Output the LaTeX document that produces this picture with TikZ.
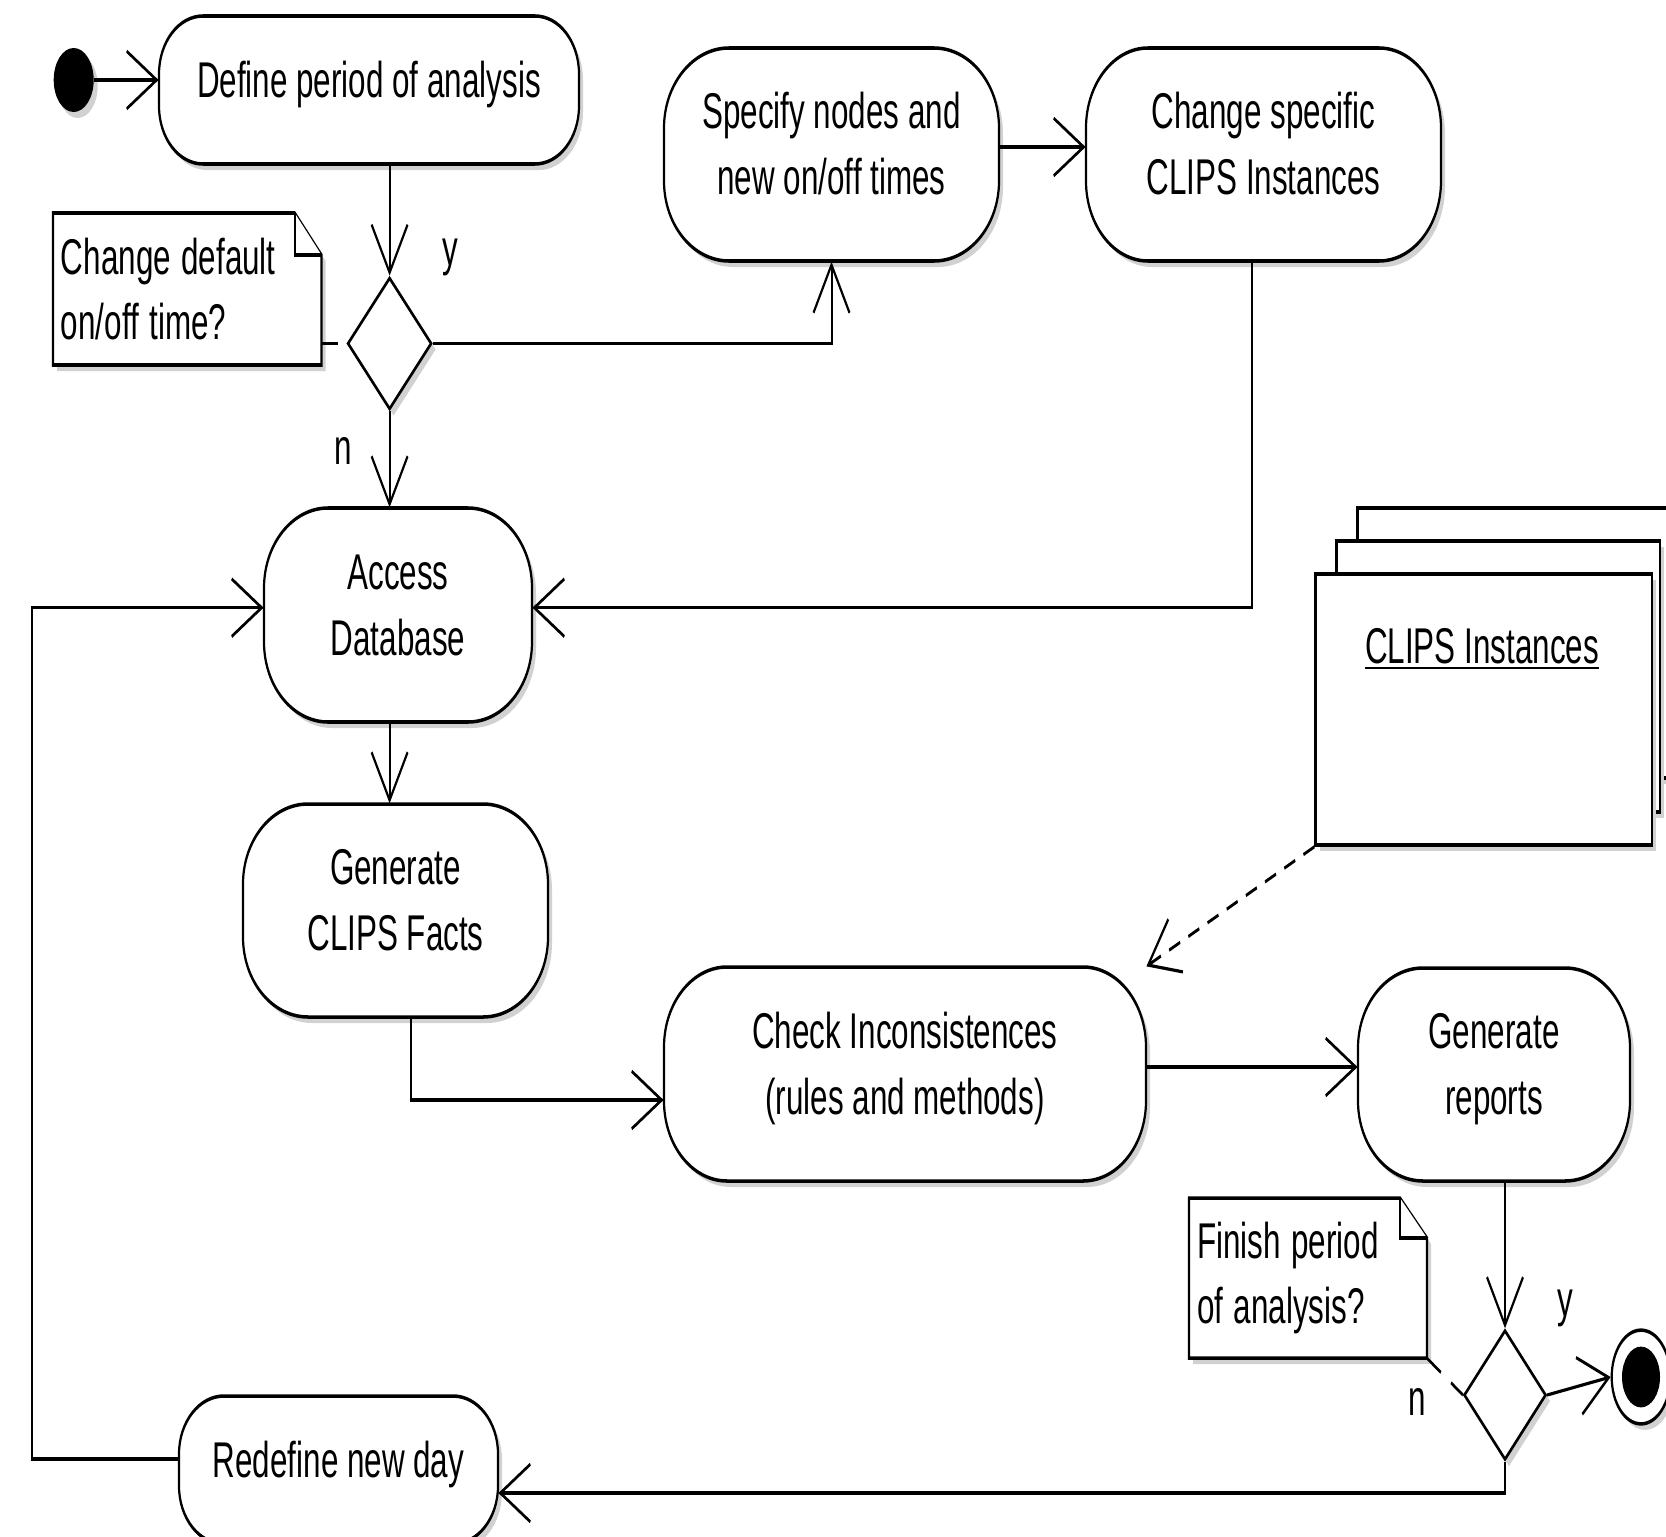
\documentclass[tikz,border=0pt]{standalone}
\usepackage{fontspec}
\setmainfont{Liberation Sans}
\usetikzlibrary{arrows.meta,shapes.geometric,calc}

% rounded activity outline: L T R B rx ry (px)
\newcommand\actpath[6]{(#1+#5,#2) -- (#3-#5,#2)
  arc[start angle=90,end angle=0,x radius={#5*0.5pt},y radius={#6*0.3125pt}] -- (#3,#4-#6)
  arc[start angle=0,end angle=-90,x radius={#5*0.5pt},y radius={#6*0.3125pt}] -- (#1+#5,#4)
  arc[start angle=270,end angle=180,x radius={#5*0.5pt},y radius={#6*0.3125pt}] -- (#1,#2+#6)
  arc[start angle=180,end angle=90,x radius={#5*0.5pt},y radius={#6*0.3125pt}] -- cycle}

% [node options] name L T R B rx ry text
\newcommand\actbox[9][]{%
  \fill[shadowc,shift={(4,6)}] \actpath{#3}{#4}{#5}{#6}{#7}{#8};
  \draw[actline] \actpath{#3}{#4}{#5}{#6}{#7}{#8};
  \node[acttext,#1,minimum width={(#5-#3)*0.5pt},minimum height={(#6-#4)*0.3125pt}]
    (#2) at ({(#3+#5)/2},{(#4+#6)/2}) {#9};
}

% note: name L T R B foldx foldy text
\newcommand\notebox[8]{%
  \fill[shadowc,shift={(4,6)}] (#2,#3) -- (#6,#3) -- (#4,#7) -- (#4,#5) -- (#2,#5) -- cycle;
  \draw[actline] (#2,#3) -- (#6,#3) -- (#4,#7) -- (#4,#5) -- (#2,#5) -- cycle;
  \draw[actline] (#6,#3) -- (#6,#7) -- (#4,#7);
  \node[notetext,minimum width={(#4-#2)*0.5pt},minimum height={(#5-#3)*0.3125pt},
    text width={(#4-#2-16)*0.5pt}] (#1) at ({(#2+#4)/2},{(#3+#5)/2}) {#8};
}

% diamond shadow: cx cy halfw halfh
\newcommand\diashadow[4]{%
  \fill[shadowc] (#1-#3+4,#2+6) -- (#1+4,#2-#4+6) -- (#1+#3+4,#2+6) -- (#1+4,#2+#4+6) -- cycle;
}

\tikzset{
  shadowc/.style={fill=black!18},
  actline/.style={draw=black,fill=white,line width=1.1pt},
  acttext/.style={inner sep=0pt,align=center,text height=11.5pt,text depth=7.1pt},
  twolines/.style={text height=32.1pt},
  notetext/.style={inner xsep=4pt,inner ysep=0pt,align=left},
  decision/.style={diamond,draw=black,fill=white,line width=1.1pt,inner sep=0pt,aspect=1},
  objnode/.style={rectangle,draw=black,fill=white,line width=1.1pt,inner sep=0pt},
  conn/.style={draw=black,line width=1pt},
  arr/.style={-{Straight Barb[length=15pt,width=18pt]}},
  notelink/.style={dash pattern=on 8pt off 6pt},
  flowdash/.style={dash pattern=on 6pt off 4.5pt},
  lbl/.style={inner sep=0pt,anchor=base}
}

\begin{document}
\begin{tikzpicture}
\useasboundingbox[fill=white] (0,0) rectangle (833pt,-768.5pt);
\begin{scope}[transform canvas={yscale=1.6},x=0.5pt,y=-0.3125pt,
  every node/.append style={font=\fontsize{15.7}{20.6}\selectfont}]

% ---- initial node
\fill[shadowc] (77.7,86) circle[radius=10pt];
\node[circle,fill=black,minimum size=20pt,inner sep=0pt] (init) at (73.7,80) {};

% ---- activities
\actbox{define}{159}{16}{579}{164}{44}{58}{Define period of analysis}
\actbox[twolines]{spec}{664}{48}{999}{261}{65}{80}{Specify nodes and\\new on/off times}
\actbox[twolines]{chg}{1086}{48}{1441}{261}{62}{80}{Change specific\\CLIPS Instances}
\actbox[twolines]{access}{264}{508}{532}{722}{64}{80}{Access\\Database}
\actbox[twolines]{facts}{243}{804}{548}{1017}{65}{80}{Generate\\CLIPS Facts}
\actbox[twolines]{check}{664}{967}{1146}{1181}{63}{80}{Check Inconsistences\\(rules and methods)}
\actbox[twolines]{reports}{1358}{968}{1630}{1181}{65}{80}{Generate\\reports}
\actbox{redef}{179}{1396}{498}{1544}{45}{58}{Redefine new day}

% ---- notes
\notebox{note1}{53}{213}{321.5}{365}{294.7}{255}{Change default\\on/off time?}
\notebox{note2}{1189}{1198}{1427}{1358}{1400}{1238}{Finish period\\of analysis?}

% ---- decisions
\diashadow{389.6}{343.5}{42}{66}
\node[decision,minimum width=42pt,minimum height=41.25pt] (dec1) at (389.6,343.5) {};
\diashadow{1505}{1395}{41}{65}
\node[decision,minimum width=41pt,minimum height=40.6pt] (dec2) at (1505,1395) {};

% ---- final node
\fill[shadowc] (1645,1383) circle[radius=14.65pt];
\node[circle,draw=black,fill=white,line width=1.1pt,minimum size=29.3pt,inner sep=0pt] (final) at (1641,1377) {};
\node[circle,fill=black,minimum size=19pt,inner sep=0pt] (finaldot) at (final.center) {};

% ---- CLIPS Instances object stack
\fill[shadowc,shift={(4,6)}] (1357.5,508) rectangle (1690,778);
\draw[actline] (1357.5,508) rectangle (1690,778);
\fill[shadowc,shift={(4,6)}] (1336.5,541) rectangle (1660,812);
\draw[actline] (1336.5,541) rectangle (1660,812);
\fill[shadowc,shift={(4,6)}] (1315.5,574) rectangle (1652,845);
\node[objnode,minimum width={336.5*0.5pt},minimum height={271*0.3125pt}] (clips) at (1483.75,709.5) {};
\node[lbl] (clipslabel) at (1482,663) {\underline{CLIPS Instances}};

% ---- guard labels
\node[lbl] (y1) at (450,265) {y};
\node[lbl] (n1) at (343,464) {n};
\node[lbl] (y2) at (1565,1316) {y};
\node[lbl] (n2) at (1417,1415) {n};

% ---- helper coordinates
\coordinate (ya) at (0,147);
\coordinate (c6) at (1251.6,607.7);
\coordinate (loopx) at (32,1459);
\coordinate (c9) at (411,1100);
\coordinate (yb) at (0,1067);
\coordinate (c13) at (0,1493);

% ---- connectors
\draw[conn,arr] (init.east) -- (init.east -| define.west);
\draw[conn,arr] (dec1.north |- define.south) -- (dec1.north);
\draw[conn,arr] (dec1.east) -| (spec.south);
\draw[conn,arr] (dec1.south) -- (dec1.south |- access.north);
\draw[conn,arr] (spec.east |- ya) -- (chg.west |- ya);
\draw[conn,arr] (chg.south -| c6) -- (c6) -- (c6 -| access.east);
\draw[conn,arr] (redef.west |- loopx) -- (loopx) -- (loopx |- c6) -- (c6 -| access.west);
\draw[conn,arr] (dec1.south |- access.south) -- (dec1.south |- facts.north);
\draw[conn,arr] (facts.south -| c9) -- (c9) -- (c9 -| check.west);
\draw[conn,arr] (check.east |- yb) -- (reports.west |- yb);
\draw[conn,arr] (dec2.north |- reports.south) -- (dec2.north);
\draw[conn,arr] (dec2.east) -- (final.west);
\draw[conn,arr] (dec2.south) -- (dec2.south |- c13) -- (redef.east |- c13);
\draw[conn,flowdash,arr] (clips.south west) -- (check.north east);
\draw[conn,notelink] (note1.east |- dec1.west) -- (dec1.west);
\draw[conn,notelink] (note2.south east) -- (dec2.west);

\end{scope}
\end{tikzpicture}
\end{document}
